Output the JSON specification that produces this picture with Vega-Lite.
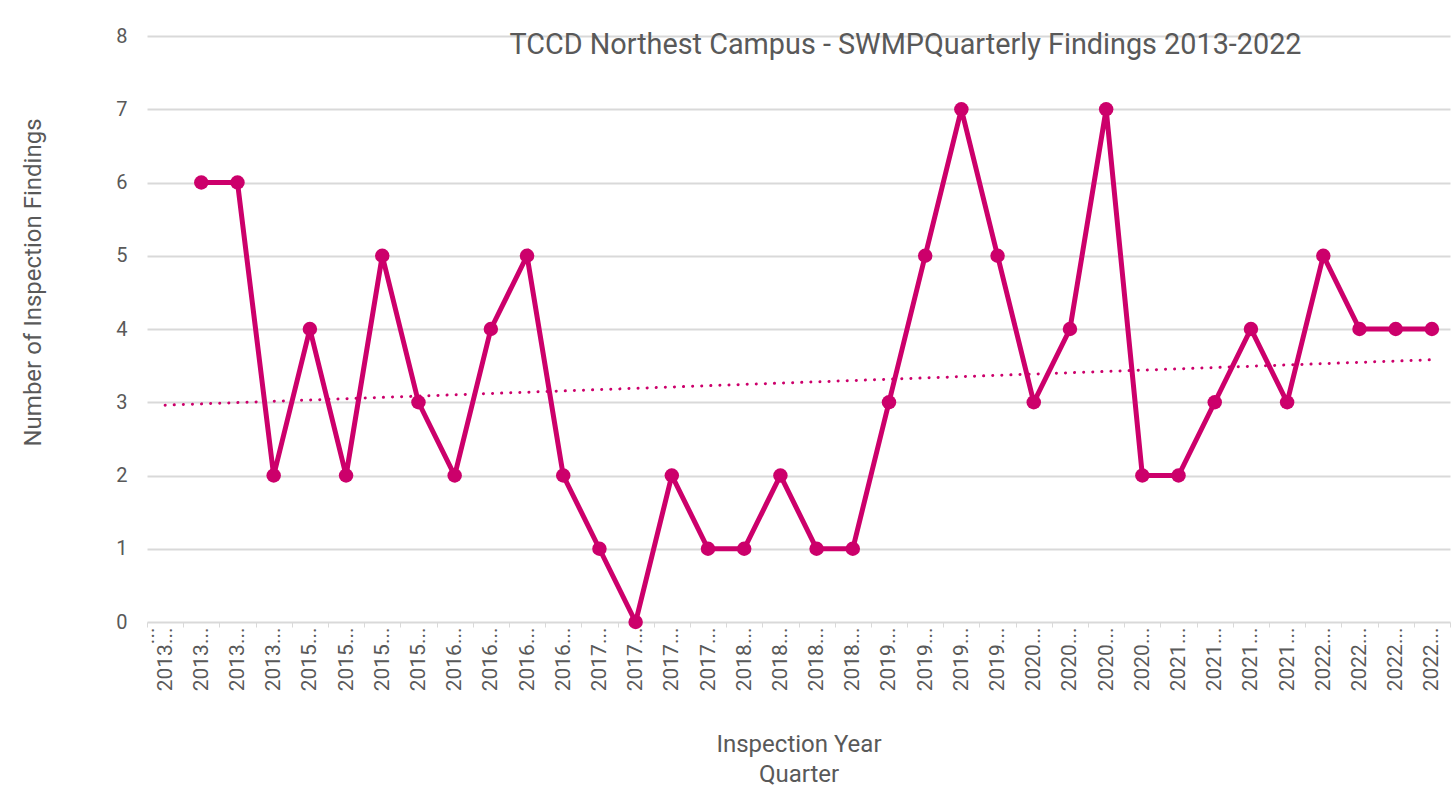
{
  "$schema": "https://vega.github.io/schema/vega-lite/v6.json",
  "width": 1303,
  "height": 586,
  "autosize": "none",
  "padding": {"left": 147, "top": 36, "right": 4, "bottom": 188},
  "background": "white",
  "config": {
    "font": "Roboto",
    "view": {"stroke": null},
    "axis": {"labelColor": "#595959", "titleColor": "#595959", "titleFontWeight": "normal"}
  },
  "title": {
    "text": "TCCD Northest Campus - SWMPQuarterly Findings 2013-2022",
    "fontSize": 28.8,
    "fontWeight": "normal",
    "color": "#595959",
    "anchor": "middle",
    "frame": "group",
    "dx": 107,
    "offset": -34,
    "baseline": "top"
  },
  "datasets": {
    "findings": [
      {"q": "2013 Q1", "n": null},
      {"q": "2013 Q2", "n": 6},
      {"q": "2013 Q3", "n": 6},
      {"q": "2013 Q4", "n": 2},
      {"q": "2015 Q1", "n": 4},
      {"q": "2015 Q2", "n": 2},
      {"q": "2015 Q3", "n": 5},
      {"q": "2015 Q4", "n": 3},
      {"q": "2016 Q1", "n": 2},
      {"q": "2016 Q2", "n": 4},
      {"q": "2016 Q3", "n": 5},
      {"q": "2016 Q4", "n": 2},
      {"q": "2017 Q1", "n": 1},
      {"q": "2017 Q2", "n": 0},
      {"q": "2017 Q3", "n": 2},
      {"q": "2017 Q4", "n": 1},
      {"q": "2018 Q1", "n": 1},
      {"q": "2018 Q2", "n": 2},
      {"q": "2018 Q3", "n": 1},
      {"q": "2018 Q4", "n": 1},
      {"q": "2019 Q1", "n": 3},
      {"q": "2019 Q2", "n": 5},
      {"q": "2019 Q3", "n": 7},
      {"q": "2019 Q4", "n": 5},
      {"q": "2020 Q1", "n": 3},
      {"q": "2020 Q2", "n": 4},
      {"q": "2020 Q3", "n": 7},
      {"q": "2020 Q4", "n": 2},
      {"q": "2021 Q1", "n": 2},
      {"q": "2021 Q2", "n": 3},
      {"q": "2021 Q3", "n": 4},
      {"q": "2021 Q4", "n": 3},
      {"q": "2022 Q1", "n": 5},
      {"q": "2022 Q2", "n": 4},
      {"q": "2022 Q3", "n": 4},
      {"q": "2022 Q4", "n": 4}
    ],
    "trend": [
      {"q": "2013 Q1", "n": 2.96},
      {"q": "2022 Q4", "n": 3.58}
    ]
  },
  "encoding": {
    "x": {
      "field": "q",
      "type": "ordinal",
      "sort": null,
      "scale": {"paddingInner": 0, "paddingOuter": 0},
      "axis": {
        "title": ["Inspection Year", "Quarter"],
        "titleFontSize": 24,
        "titleLineHeight": 30,
        "titlePadding": 42,
        "labelAngle": -90,
        "labelFontSize": 21,
        "labelPadding": 0,
        "labelExpr": "slice(datum.label, 0, 4) + '...'",
        "domain": false,
        "ticks": true,
        "tickBand": "extent",
        "tickSize": 5,
        "tickColor": "#d9d9d9",
        "grid": false
      }
    },
    "y": {
      "field": "n",
      "type": "quantitative",
      "scale": {"domain": [0, 8], "nice": false},
      "axis": {
        "title": "Number of Inspection Findings",
        "titleFontSize": 24,
        "titlePadding": 70,
        "titleY": 246,
        "values": [0, 1, 2, 3, 4, 5, 6, 7, 8],
        "labelFontSize": 20,
        "labelPadding": 20,
        "labelOverlap": false,
        "ticks": false,
        "domain": false,
        "gridColor": "#d9d9d9",
        "gridWidth": 2
      }
    }
  },
  "layer": [
    {
      "data": {"name": "findings"},
      "mark": {"type": "line", "color": "#CC006B", "strokeWidth": 5, "point": {"filled": true, "size": 210, "color": "#CC006B"}}
    },
    {
      "data": {"name": "trend"},
      "mark": {"type": "line", "color": "#CC006B", "strokeWidth": 3, "strokeDash": [0.1, 9], "strokeCap": "round"}
    }
  ]
}
